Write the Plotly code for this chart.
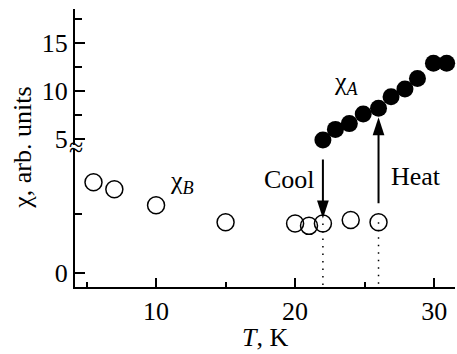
import plotly.graph_objects as go

# ---- data ----
T_B = [5.5, 7.0, 10.0, 15.0, 20.0, 21.0, 22.0, 24.0, 26.0]
chi_B = [1.54, 1.42, 1.15, 0.86, 0.84, 0.80, 0.84, 0.90, 0.86]
T_A = [22.0, 22.9, 23.9, 24.9, 26.0, 26.9, 27.9, 28.8, 29.95, 30.9]
chi_A = [4.9, 6.0, 6.6, 7.6, 8.2, 9.4, 10.2, 11.3, 12.9, 12.9]
T_cool = 22.0
T_heat = 26.0
x_ticks = [10, 20, 30]
x_minor = [5, 15, 25]
y_upper_ticks = [5, 10, 15]
y_upper_minor = [7.5, 12.5, 17.5]
y_lower_ticks = [0]
y_lower_minor = [1]

X_RANGE = [4.17, 31.5]
Y_LOW_RANGE = [-0.237, 2.12]
Y_UP_RANGE = [4.06, 18.54]

FONT = "Liberation Serif"
fig = go.Figure()

iB_cool = T_B.index(T_cool)
iB_heat = T_B.index(T_heat)
iA_cool = T_A.index(T_cool)
iA_heat = T_A.index(T_heat)

# dotted drop lines
for i in (iB_cool, iB_heat):
    fig.add_trace(go.Scatter(x=[T_B[i], T_B[i]], y=[chi_B[i], Y_LOW_RANGE[0]],
                             mode="lines", xaxis="x", yaxis="y",
                             line=dict(color="black", width=1.5, dash="1.5px,6px"),
                             showlegend=False, hoverinfo="skip"))

# chi_B open circles (lower axis)
fig.add_trace(go.Scatter(x=T_B, y=chi_B, mode="markers", xaxis="x", yaxis="y",
                         marker=dict(symbol="circle-open", size=17, color="black",
                                     line=dict(width=1.5)),
                         cliponaxis=False, showlegend=False))
# chi_A filled circles (upper axis)
fig.add_trace(go.Scatter(x=T_A, y=chi_A, mode="markers", xaxis="x", yaxis="y2",
                         marker=dict(symbol="circle", size=17, color="black"),
                         cliponaxis=False, showlegend=False))

# arrow heads
fig.add_trace(go.Scatter(x=[T_B[iB_cool]], y=[chi_B[iB_cool]], mode="markers",
                         xaxis="x", yaxis="y",
                         marker=dict(symbol="arrow", size=19, angle=180, standoff=5,
                                     color="black"),
                         cliponaxis=False, showlegend=False))
fig.add_trace(go.Scatter(x=[T_A[iA_heat]], y=[chi_A[iA_heat]], mode="markers",
                         xaxis="x", yaxis="y2",
                         marker=dict(symbol="arrow", size=19, angle=0, standoff=9,
                                     color="black"),
                         cliponaxis=False, showlegend=False))

ann = []
# arrow shafts
ann.append(dict(x=T_B[iB_cool], y=chi_B[iB_cool], xref="x", yref="y",
                ax=0, ay=-74, showarrow=True, arrowhead=0, arrowwidth=2,
                arrowcolor="black", standoff=14, text=" "))
ann.append(dict(x=T_A[iA_heat], y=chi_A[iA_heat], xref="x", yref="y2",
                ax=0, ay=105, showarrow=True, arrowhead=0, arrowwidth=2,
                arrowcolor="black", standoff=18, text=" "))

tf = dict(family=FONT, size=26, color="black")
ann.append(dict(x=23.67, y=10.83, xref="x", yref="y2", showarrow=False,
                text="χ<sub><i>A</i></sub>", font=tf))
ann.append(dict(x=11.9, y=1.54, xref="x", yref="y", showarrow=False,
                text="χ<sub><i>B</i></sub>", font=tf))
ann.append(dict(x=19.6, y=1.59, xref="x", yref="y", showarrow=False,
                text="Cool", font=tf))
ann.append(dict(x=28.7, y=1.64, xref="x", yref="y", showarrow=False,
                text="Heat", font=tf))
# axis titles
ann.append(dict(x=-0.14, y=0.5, xref="paper", yref="paper", showarrow=False,
                text="χ, arb. units", textangle=-90, font=tf,
                xanchor="center", yanchor="middle"))
ann.append(dict(x=0.5, y=-0.183, xref="paper", yref="paper", showarrow=False,
                text="<i>T</i>, K", font=tf, xanchor="center", yanchor="middle"))
# axis break glyph
ann.append(dict(x=0.002, y=0.503, xref="paper", yref="paper", showarrow=False,
                text="≈", font=dict(family=FONT, size=26, color="black"),
                xanchor="center", yanchor="middle"))

axis_common = dict(showline=True, linewidth=2, linecolor="black", ticks="inside",
                   tickwidth=1.5, tickcolor="black", showgrid=False, zeroline=False,
                   tickfont=dict(family=FONT, size=26, color="black"))

fig.update_layout(
    width=457, height=354,
    margin=dict(l=75, r=2, t=9, b=67),
    paper_bgcolor="white", plot_bgcolor="white",
    showlegend=False,
    xaxis=dict(range=X_RANGE, anchor="y", tickvals=x_ticks, ticklen=9,
               minor=dict(tickvals=x_minor, ticklen=5, ticks="inside",
                          tickwidth=1.5, tickcolor="black", showgrid=False),
               **axis_common),
    yaxis=dict(range=Y_LOW_RANGE, domain=[0, 0.5], anchor="x",
               tickvals=y_lower_ticks, ticklen=10,
               minor=dict(tickvals=y_lower_minor, ticklen=7, ticks="inside",
                          tickwidth=1.5, tickcolor="black", showgrid=False),
               **axis_common),
    yaxis2=dict(range=Y_UP_RANGE, domain=[0.5, 1], anchor="x",
                tickvals=y_upper_ticks, ticklen=10,
                minor=dict(tickvals=y_upper_minor, ticklen=7, ticks="inside",
                           tickwidth=1.5, tickcolor="black", showgrid=False),
                **axis_common),
    annotations=ann,
    shapes=[dict(type="rect", xref="paper", yref="paper", x0=-0.007, x1=0.007,
                 y0=0.497, y1=0.511, fillcolor="white", line=dict(width=0),
                 layer="above")],
)

fig.write_html("out.html")
